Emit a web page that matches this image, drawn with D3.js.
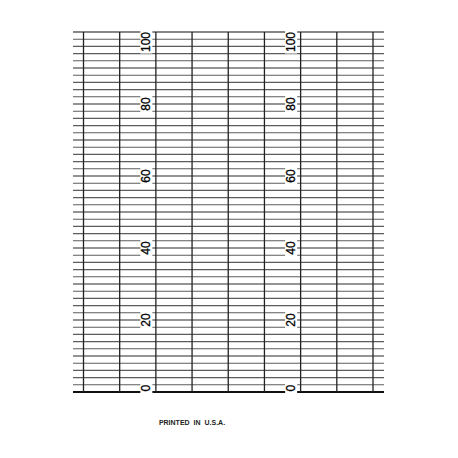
<!DOCTYPE html>
<html>
<head>
<meta charset="utf-8">
<script src="https://cdn.jsdelivr.net/npm/d3@7"></script>
<style>
  body { margin: 0; background: #fff; }
  svg { display: block; }
</style>
</head>
<body>
<div class="chart"></div>
<script>
const width = 458
const height = 458

// chart paper scale 0..100, minor rule every 2, 8 time divisions
const scaleDomain = [0, 100]
const minorStep = 2
const majorStep = 10
const timeDivisions = 8
const labelValues = [0, 20, 40, 60, 80, 100]
const labelColumns = [2, 6]
const footer = "PRINTED IN U.S.A."

const svg = d3.select(".chart")
    .append("svg")
    .attr("width", width)
    .attr("height", height)

svg.append("rect")
    .attr("width", width)
    .attr("height", height)
    .attr("fill", "#fff")

const yScale = d3.scaleLinear()
    .domain(scaleDomain)
    .range([392, 32])

const xScale = d3.scaleLinear()
    .domain([0, timeDivisions])
    .range([83.5, 373])

const ruleLeft = 73
const ruleRight = 384

const rules = d3.range(scaleDomain[0], scaleDomain[1] + minorStep, minorStep)

// horizontal rules
svg.append("g")
    .selectAll("line")
    .data(rules)
    .enter().append("line")
        .attr("x1", ruleLeft)
        .attr("x2", ruleRight)
        .attr("y1", d => yScale(d))
        .attr("y2", d => yScale(d))
        .attr("stroke", d => (d === 0 || d === 100) ? "#111" : (d % majorStep === 0 ? "#2a2a2a" : "#5c5c5c"))
        .attr("stroke-width", d => d === 0 ? 2 : 1.1)

// vertical time lines
svg.append("g")
    .selectAll("line")
    .data(xScale.ticks(timeDivisions))
    .enter().append("line")
        .attr("x1", d => xScale(d))
        .attr("x2", d => xScale(d))
        .attr("y1", yScale(100))
        .attr("y2", yScale(0))
        .attr("stroke", "#222")
        .attr("stroke-width", 1.3)

// scale labels, rotated, knocked out of the rules
const labels = []
labelColumns.forEach(c => labelValues.forEach(v => labels.push({col: c, value: v})))

const lab = svg.append("g")
    .selectAll("g")
    .data(labels)
    .enter().append("g")
        .attr("transform", d => `translate(${xScale(d.col) - 9.5}, ${yScale(d.value)}) rotate(-90)`)

lab.append("rect")
    .attr("fill", "#fff")

lab.append("text")
    .attr("text-anchor", d => d.value === 0 ? "start" : (d.value === 100 ? "end" : "middle"))
    .attr("dominant-baseline", "central")
    .attr("x", d => d.value === 0 ? 0.5 : 0)
    .style("font-family", "Liberation Sans, Arial, sans-serif")
    .style("font-size", "12px")
    .style("stroke", "#000")
    .style("stroke-width", 0.3)
    .style("fill", "#000")
    .text(d => d.value)

lab.each(function() {
    const g = d3.select(this)
    const b = g.select("text").node().getBBox()
    g.select("rect")
        .attr("x", b.x - 1.5)
        .attr("y", b.y + 1)
        .attr("width", b.width + 3)
        .attr("height", b.height - 2)
})

svg.append("text")
    .attr("x", 192)
    .attr("y", 425)
    .attr("text-anchor", "middle")
    .style("font-family", "Liberation Sans, Arial, sans-serif")
    .style("font-size", "7px")
    .style("font-weight", "bold")
    .style("word-spacing", "2px")
    .style("fill", "#222")
    .text(footer)
</script>
</body>
</html>
